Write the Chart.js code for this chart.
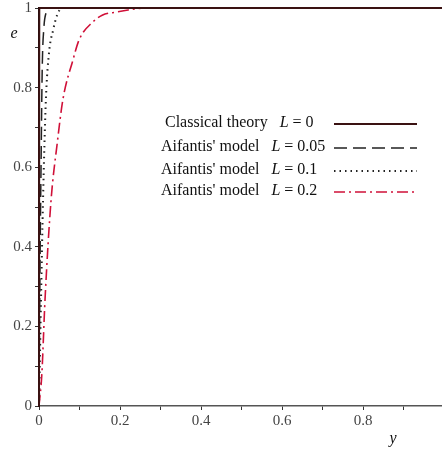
<!DOCTYPE html>
<html>
<head>
<meta charset="utf-8">
<script src="https://cdn.jsdelivr.net/npm/chart.js"></script>
<style>
  html, body { margin: 0; padding: 0; background: #fff; overflow: hidden; }
  #wrap { width: 442px; height: 449px; position: relative; }
</style>
</head>
<body>
<div id="wrap"><canvas id="chart"></canvas></div>
<script>
// values
var xL0 = [0, 0.0008, 1];
var eL0 = [0, 1, 1];

var xL005 = [0, 0.002, 0.005, 0.008, 0.012, 0.018, 0.025, 0.04, 1];
var eL005 = [0, 0.3, 0.6, 0.85, 0.95, 0.99, 1, 1, 1];

var xL01 = [0, 0.005, 0.01, 0.017, 0.025, 0.035, 0.044, 0.057, 0.08, 1];
var eL01 = [0, 0.27, 0.52, 0.77, 0.89, 0.945, 0.98, 1, 1, 1];

var xL02 = [0, 0.007, 0.015, 0.03, 0.045, 0.059, 0.084, 0.099, 0.133, 0.156, 0.193, 0.22, 0.26, 1];
var eL02 = [0, 0.08, 0.27, 0.52, 0.66, 0.77, 0.87, 0.92, 0.965, 0.982, 0.99, 0.995, 1, 1];

var legendLabels = ['Classical theory', "Aifantis' model", "Aifantis' model", "Aifantis' model"];
var legendL = ['0', '0.05', '0.1', '0.2'];

var xTicks = [0, 0.1, 0.2, 0.3, 0.4, 0.5, 0.6, 0.7, 0.8, 0.9];
var yTicks = [0, 0.1, 0.2, 0.3, 0.4, 0.5, 0.6, 0.7, 0.8, 0.9, 1];

function pts(xs, ys) {
    return xs.map(function (x, i) { return { x: x, y: ys[i] }; });
}

var serif = '"Liberation Serif", "DejaVu Serif", serif';

var styles = [
    { color: '#3a1212', width: 2, dash: [] },
    { color: '#222222', width: 1.5, dash: [13, 6] },
    { color: '#222222', width: 2, dash: [1.5, 4] },
    { color: '#d01038', width: 1.6, dash: [11, 4, 2, 4] }
];

var series = [pts(xL0, eL0), pts(xL005, eL005), pts(xL01, eL01), pts(xL02, eL02)];

// legend + axis titles drawn on the canvas
var textPlugin = {
    id: 'textPlugin',
    afterDraw: function (chart) {
        var ctx = chart.ctx;
        ctx.save();
        ctx.fillStyle = '#111';
        ctx.textBaseline = 'middle';
        var rows = [123, 147, 170, 191];
        var textX = [165, 161, 161, 161];
        for (var i = 0; i < rows.length; i++) {
            ctx.font = '16px ' + serif;
            ctx.textAlign = 'left';
            var s = legendLabels[i] + '   ';
            ctx.fillText(s, textX[i], rows[i]);
            var x = textX[i] + ctx.measureText(s).width;
            ctx.font = 'italic 16px ' + serif;
            ctx.fillText('L', x, rows[i]);
            x += ctx.measureText('L').width;
            ctx.font = '16px ' + serif;
            ctx.fillText(' = ' + legendL[i], x, rows[i]);
            var st = styles[i];
            ctx.strokeStyle = st.color;
            ctx.lineWidth = st.width;
            ctx.setLineDash(st.dash);
            ctx.beginPath();
            ctx.moveTo(334, rows[i] + 1);
            ctx.lineTo(417, rows[i] + 1);
            ctx.stroke();
            ctx.setLineDash([]);
        }
        ctx.font = 'italic 16px ' + serif;
        ctx.textAlign = 'center';
        ctx.fillText('e', 14, 34);
        ctx.fillText('y', 393, 439);
        ctx.restore();
    }
};

new Chart(document.getElementById('chart'), {
    type: 'line',
    data: {
        datasets: series.map(function (d, i) {
            return {
                label: legendLabels[i] + ' L = ' + legendL[i],
                data: d,
                borderColor: styles[i].color,
                borderWidth: styles[i].width,
                borderDash: styles[i].dash,
                pointRadius: 0,
                cubicInterpolationMode: 'monotone',
                fill: false,
                clip: 6
            };
        })
    },
    options: {
        responsive: true,
        maintainAspectRatio: false,
        animation: false,
        layout: { padding: { top: 8, right: 0, left: 0, bottom: 0 } },
        plugins: { legend: { display: false }, tooltip: { enabled: false } },
        scales: {
            x: {
                type: 'linear',
                min: 0,
                max: 0.995,
                afterBuildTicks: function (scale) {
                    scale.ticks = xTicks.map(function (v) { return { value: v }; });
                },
                afterFit: function (scale) {
                    scale.height = 43;
                    scale.paddingLeft = 0;
                    scale.paddingRight = 0;
                },
                grid: { drawOnChartArea: false, tickLength: 4, color: '#333' },
                border: { color: '#555', width: 1.5 },
                ticks: {
                    autoSkip: false,
                    maxRotation: 0,
                    padding: 2,
                    color: '#444',
                    font: { family: serif, size: 15 },
                    callback: function (v) {
                        var r = Math.round(v * 10);
                        return r % 2 === 0 ? String(r / 10) : '';
                    }
                }
            },
            y: {
                type: 'linear',
                min: 0,
                max: 1,
                afterBuildTicks: function (scale) {
                    scale.ticks = yTicks.map(function (v) { return { value: v }; });
                },
                afterFit: function (scale) {
                    scale.width = 39;
                    scale.paddingTop = 0;
                    scale.paddingBottom = 0;
                },
                grid: { drawOnChartArea: false, tickLength: 4, color: '#333' },
                border: { color: '#2a0e0e', width: 2 },
                ticks: {
                    autoSkip: false,
                    padding: 3,
                    color: '#444',
                    font: { family: serif, size: 15 },
                    callback: function (v) {
                        var r = Math.round(v * 10);
                        return r % 2 === 0 ? String(r / 10) : '';
                    }
                }
            }
        }
    },
    plugins: [textPlugin]
});
</script>
</body>
</html>
